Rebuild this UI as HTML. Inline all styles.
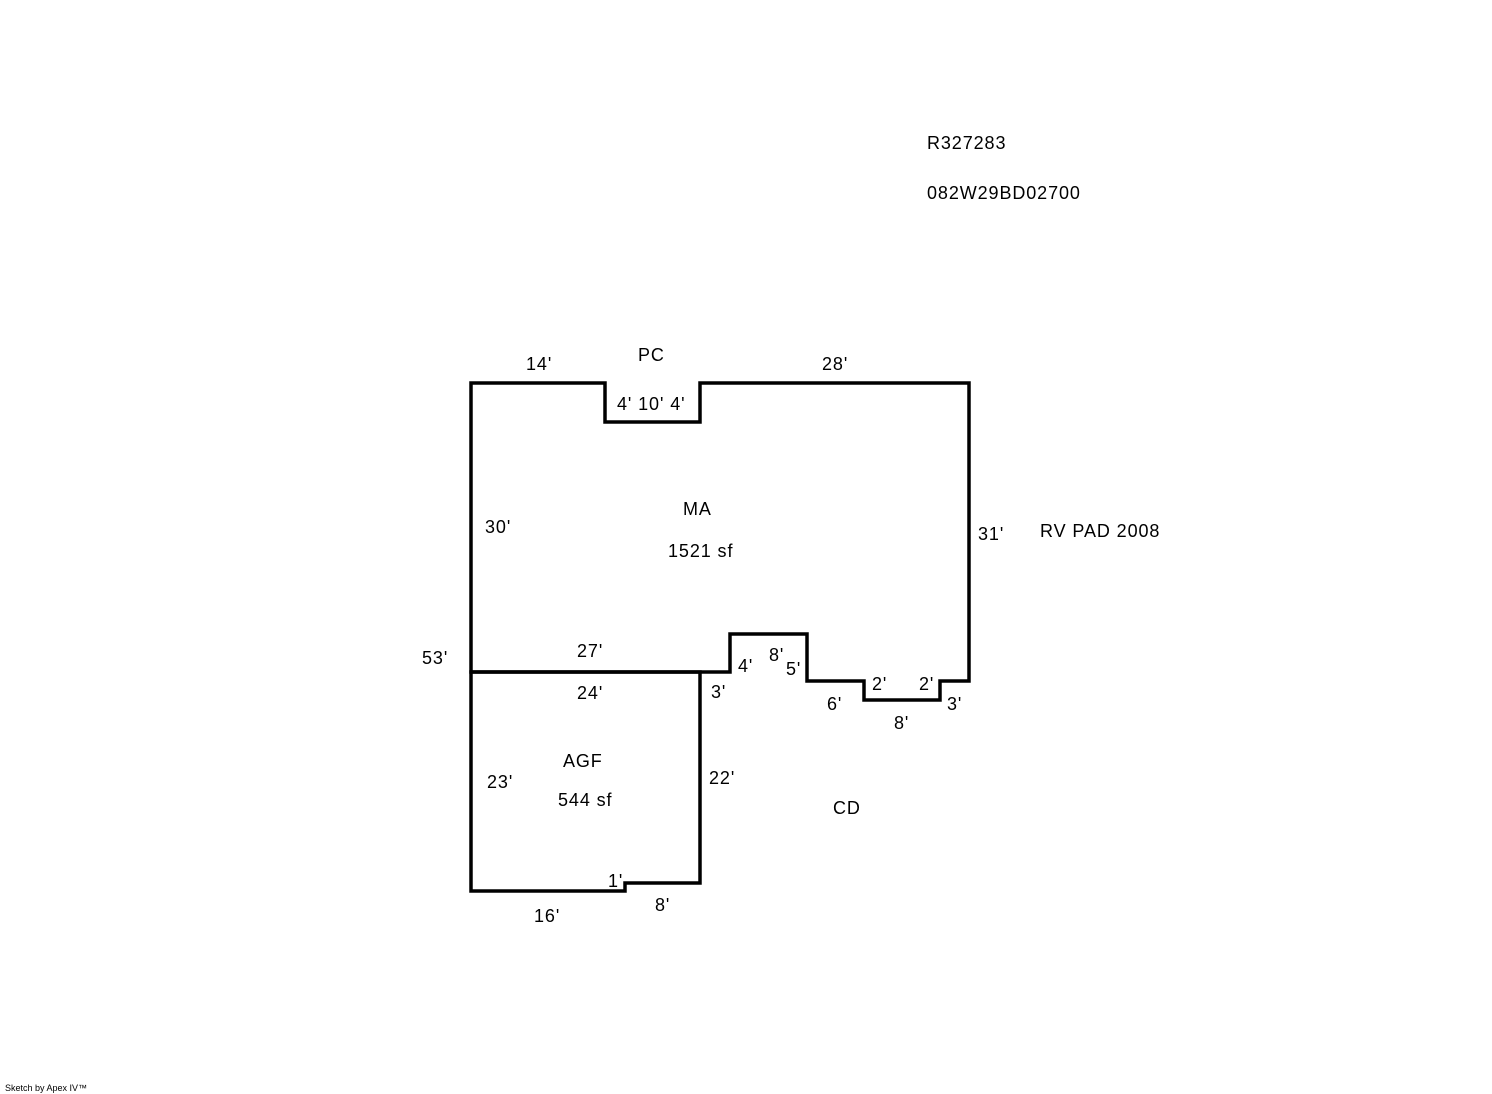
<!DOCTYPE html>
<html><head><style>
body{margin:0;background:#fff;}
svg{display:block}
text{font-family:"Liberation Sans",Arial,sans-serif;font-size:18px;fill:#000;letter-spacing:0.9px}
</style></head><body>
<svg width="1492" height="1094" xmlns="http://www.w3.org/2000/svg">
<g fill="none" stroke="#000" stroke-width="3.5" stroke-linejoin="miter">
<path d="M471,383 H605 V422 H700 V383 H969 V681 H940 V700 H864 V681 H807 V634 H730 V672 H471 Z"/>
<path d="M471,672 H700 V883 H625 V891 H471 Z"/>
</g>
<text x="927" y="149">R327283</text>
<text x="927" y="199">082W29BD02700</text>
<text x="526" y="370">14'</text>
<text x="638" y="361">PC</text>
<text x="822" y="370">28'</text>
<text x="617" y="410">4' 10' 4'</text>
<text x="683" y="515">MA</text>
<text x="668" y="557">1521 sf</text>
<text x="485" y="533">30'</text>
<text x="978" y="540">31'</text>
<text x="1040" y="537">RV PAD 2008</text>
<text x="422" y="664">53'</text>
<text x="577" y="657">27'</text>
<text x="577" y="699">24'</text>
<text x="738" y="672">4'</text>
<text x="769" y="661">8'</text>
<text x="786" y="675">5'</text>
<text x="711" y="698">3'</text>
<text x="827" y="710">6'</text>
<text x="872" y="690">2'</text>
<text x="919" y="690">2'</text>
<text x="947" y="710">3'</text>
<text x="894" y="729">8'</text>
<text x="563" y="767">AGF</text>
<text x="558" y="806">544 sf</text>
<text x="487" y="788">23'</text>
<text x="709" y="784">22'</text>
<text x="833" y="814">CD</text>
<text x="608" y="887">1'</text>
<text x="655" y="911">8'</text>
<text x="534" y="922">16'</text>
<text x="5" y="1091" style="font-size:9px;letter-spacing:0">Sketch by Apex IV™</text>
</svg>
</body></html>
